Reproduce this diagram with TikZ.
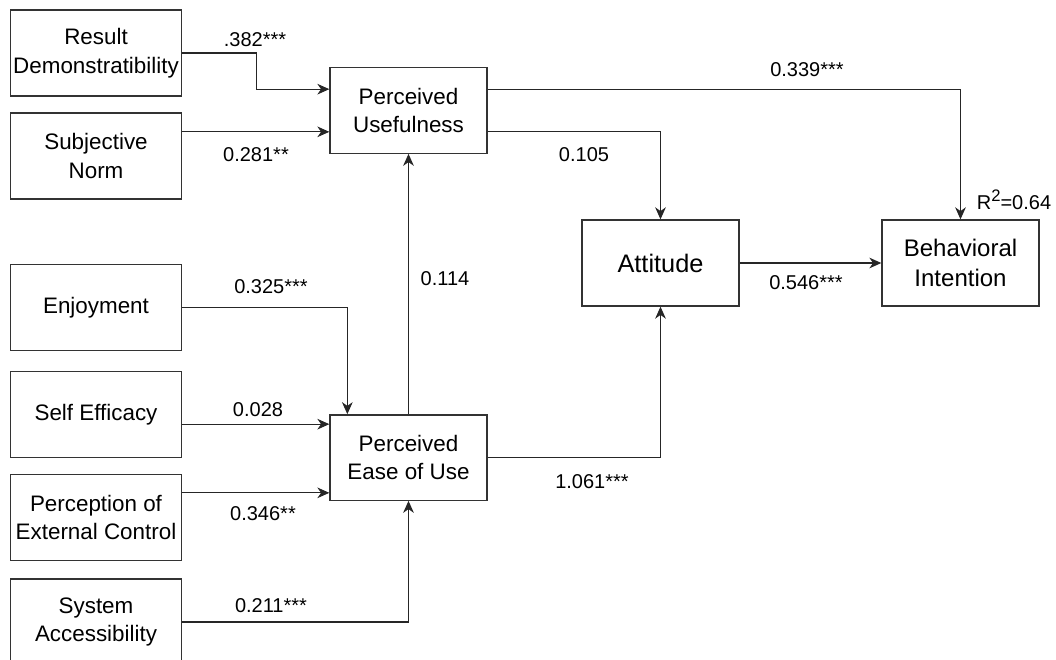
\documentclass[tikz,border=0pt]{standalone}
\usepackage{fontspec}
\setmainfont{Liberation Sans}
\usetikzlibrary{arrows.meta}

\begin{document}
\begin{tikzpicture}[
    x=0.75pt, y=-0.75pt,
    >={Stealth[length=9pt,width=8pt,inset=2.8pt]},
    construct/.style={draw=black!80, line width=1pt, align=center, inner sep=1pt, font=\fontsize{16.8}{21.5}\selectfont},
    outerbox/.style={construct, minimum width=128.5pt, minimum height=64.5pt},
    innerbox/.style={construct, minimum width=117.75pt, minimum height=64pt},
    link/.style={->, draw=black!85, line width=0.9pt},
    coef/.style={anchor=base, inner sep=0pt, font=\fontsize{15}{18}\selectfont}
]
\clip (0,0) rectangle (1056,660);

% antecedents
\node[outerbox] (rd) at (96,53) {Result\\Demonstratibility};
\node[outerbox] (sn) at (96,156) {Subjective\\Norm};
\node[outerbox] (enj) at (96,307.5) {Enjoyment};
\node[outerbox] (se) at (96,414.5) {Self Efficacy};
\node[outerbox] (pec) at (96,517.5) {Perception of\\External Control};
\node[outerbox] (sa) at (96,622) {System\\Accessibility};

% TAM core
\node[innerbox] (pu) at (408.5,110.5) {Perceived\\Usefulness};
\node[innerbox] (peou) at (408.5,457.5) {Perceived\\Ease of Use};
\node[innerbox, minimum height=64.5pt, font=\fontsize{19}{23}\selectfont] (att) at (660.5,263) {Attitude};
\node[innerbox, minimum height=64.5pt, font=\fontsize{18}{22}\selectfont] (bi) at (960.5,263) {Behavioral\\Intention};

\coordinate (puA) at ([yshift=16pt]pu.west);
\coordinate (puB) at ([yshift=-16pt]pu.west);
\coordinate (puC) at ([yshift=16pt]pu.east);
\coordinate (puD) at ([yshift=-16pt]pu.east);
\coordinate (peA) at ([xshift=13.5pt]peou.north west);
\coordinate (peB) at ([yshift=25pt]peou.west);
\coordinate (peC) at ([yshift=-26.5pt]peou.west);

\draw[link] (rd.east) -- ++(74,0) |- (puA);
\draw[link] (sn.east |- puB) -- (puB);
\draw[link] (puC) -| (bi.north);
\draw[link] (puD) -| (att.north);
\draw[link] (att.east) -- (bi.west);
\draw[link] (peou.east) -| (att.south);
\draw[link] (peou.north) -- (pu.south);
\draw[link] (enj.east) -| (peA);
\draw[link] (se.east |- peB) -- (peB);
\draw[link] (pec.east |- peC) -- (peC);
\draw[link] (sa.east) -| (peou.south);

% path coefficients
\node[coef] (c382) at (255,47) {.382***};
\node[coef] (c281) at (256,161.5) {0.281**};
\node[coef] (c325) at (271,293.5) {0.325***};
\node[coef] (c028) at (258,416.5) {0.028};
\node[coef] (c346) at (263,520.5) {0.346**};
\node[coef] (c211) at (271,612.5) {0.211***};
\node[coef] (c339) at (807,76.5) {0.339***};
\node[coef] (c105) at (584,161.5) {0.105};
\node[coef] (c114) at (445,285.5) {0.114};
\node[coef] (c546) at (806,289) {0.546***};
\node[coef] (c061) at (592,488) {1.061***};
\node[coef] (rsq) at (1014,209.5) {R\raisebox{0.42em}{\fontsize{12.5}{12}\selectfont 2}=0.64};
\end{tikzpicture}
\end{document}
